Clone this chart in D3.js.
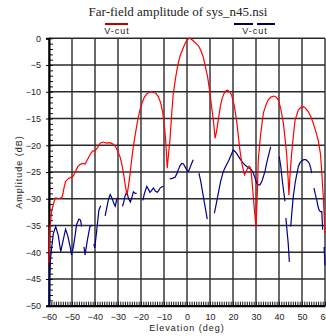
<!DOCTYPE html>
<html>
<head>
<meta charset="utf-8">
<script src="https://cdn.jsdelivr.net/npm/d3@7"></script>
<style>
  body { margin: 0; background: #fff; }
  svg { display: block; }
  .lbl { font-family: "Liberation Sans", Arial, sans-serif; font-size: 9px; fill: #222; }
</style>
</head>
<body>
<svg width="326" height="336"></svg>
<script>
// chart title and legend
var title = "Far-field amplitude of sys_n45.nsi";
var seriesNames = ["V-cut", "V-cut"];
var xTicks = d3.range(-60, 61, 10);
var yTicks = d3.range(-50, 1, 5);

// red V-cut: [elevation deg, amplitude dB]
var redCut = [
  [-60,-42],[-59.6,-35.5],[-58.8,-32.2],[-57.8,-30.5],[-57,-29.8],[-56,-30],[-55,-29.9],[-54.2,-29.6],
  [-53.5,-28],[-52.8,-26.8],[-51.5,-26.2],[-50.5,-26],[-49.5,-25.8],[-48.7,-25.1],[-47.5,-24],[-46.5,-23.6],
  [-45.5,-23.4],[-44.3,-23.5],[-43.2,-22.6],[-42,-21.6],[-41,-21.1],[-40,-21],[-39,-20.5],[-37.8,-19.6],
  [-36.5,-19.4],[-35,-19.6],[-34,-19.5],[-33,-19.6],[-32,-19.8],[-31,-20.3],[-30,-21.2],[-29,-22.3],
  [-28.2,-23.8],[-27.4,-25.8],[-26.8,-27.6],[-26.1,-29.3],[-25.4,-27.5],[-24.8,-25.5],[-24,-22.5],
  [-23.3,-20.2],[-22.5,-18],[-21.5,-15.5],[-20.5,-13.5],[-19.5,-12],[-18.5,-11],[-17.5,-10.4],
  [-16.5,-10.1],[-15.5,-10],[-14.5,-10.1],[-13.5,-10.3],[-12.5,-10.9],[-11.5,-12],[-10.5,-14],
  [-9.8,-16.5],[-9.2,-19.5],[-8.6,-24.3],[-8,-21.5],[-7.4,-19],[-6.8,-15],[-6,-10.5],[-5,-7.5],
  [-4,-5],[-3,-3.3],[-2,-2.2],[-1,-1.1],[0,-0.3],[1,0],[2,-0.2],[3,-0.6],[4,-1],[5,-1.4],[6,-2.3],
  [7,-3.4],[8,-5.3],[9,-7.3],[10,-10.3],[10.7,-12.8],[11.5,-15.5],[12.2,-18.7],[12.8,-17.5],
  [13.6,-15.3],[14.4,-13],[15.1,-11.5],[16,-10.4],[17,-9.8],[17.5,-9.7],[18.5,-10],[19.4,-10.6],
  [20.5,-12.5],[21.6,-15.5],[22.3,-18.2],[23,-20.9],[24,-23.7],[25,-25.5],[25.6,-25],[26.2,-24.4],
  [27,-23.9],[27.6,-24.2],[28.1,-25.9],[28.8,-29.5],[29.4,-32.5],[30,-35.2],[30.5,-30],[31,-22.7],
  [32,-18],[33.2,-14],[34.3,-12.5],[35.3,-11.5],[36.5,-11],[37.8,-10.8],[38.8,-11],[39.7,-11.5],
  [40.8,-13.2],[41.9,-15.9],[42.7,-19],[43.3,-21.5],[44,-26.5],[44.3,-29.3],[44.8,-25.5],[45.5,-21.5],
  [46.3,-18],[47,-15.3],[48.4,-13.4],[49.5,-12.9],[50.6,-12.8],[51.6,-13.1],[52.7,-13.7],[53.8,-14.6],
  [54.9,-15.9],[56,-17.4],[57,-19],[58,-21.5],[58.6,-25],[59.3,-30],[60,-36.5]
];

// blue V-cut, null = break in the trace
var blueCut = [
  [-60,-50],[-59.7,-44],[-59.3,-41],[-58.8,-39],[-58.1,-36.5],[-57.1,-35.2],[-56,-36.8],[-54.9,-39.9],
  [-53.8,-37.7],[-52.8,-35.7],[-51.8,-37],[-50.8,-39],[-50.2,-40.5],[-49.4,-39],[-48.7,-37],[-48,-34.8],
  [-47,-33.8],[-46.3,-34],[-45.8,-35.2],null,
  [-44.8,-39],[-44.3,-40.5],[-43.3,-37.7],[-42.2,-35.2],[-41.2,-34.9],null,
  [-40.5,-38.5],[-40.1,-39.2],[-39.3,-36.1],[-38.3,-32.1],[-37.5,-31.3],null,
  [-35.6,-33.2],[-34.8,-31.5],[-34.2,-30.2],[-33.4,-29.2],[-32.5,-30],[-31.7,-31],[-31.2,-31.4],
  [-30.6,-30.2],[-29.9,-29.8],null,
  [-28.1,-31.4],[-27.7,-31],[-27,-29.6],[-26.2,-28.7],[-25.4,-30],[-24.6,-30.6],[-23.8,-29.5],
  [-23.3,-28.7],[-22.5,-29],[-21.9,-29],null,
  [-19.2,-30.3],[-18.5,-29],[-17.5,-27.7],[-16.8,-28.2],[-16.1,-28.8],[-15.3,-28.4],[-14.6,-28],
  [-13.7,-28.6],[-12.9,-28.8],[-12.2,-28.4],[-11.7,-28],[-11,-27.8],[-10.3,-27.7],null,
  [-7.5,-26.3],[-6.5,-26.2],[-5.2,-26],[-4.5,-25.4],[-3.8,-24.6],[-3,-23.8],[-2.3,-23.4],[-1.5,-23.5],
  [-0.9,-24],[0,-24.7],[0.6,-24.9],[1.3,-24.2],[2,-23.4],[2.7,-22.7],null,
  [5.2,-25.2],[6,-26.8],[7.1,-29.6],[8,-31.8],[8.8,-33.8],null,
  [11.9,-32.7],[12.7,-31],[13.6,-29],[14.6,-26.8],[15.8,-24.9],[17,-23.8],[18,-23],[19,-22],
  [20.1,-20.9],[21,-21.2],[22,-21.8],[23,-22.5],[23.8,-23],[24.5,-23.4],[25.5,-23.8],[26.7,-24.2],
  [27.5,-24.4],[28.2,-24.7],[28.8,-25.2],[29.5,-26],[30.3,-27.1],[31,-27.4],[31.7,-27.4],[32.5,-26.8],
  [33.2,-25.9],[34,-24.7],[34.6,-23.4],[35.5,-21.8],[36.4,-20.3],null,
  [40.1,-22.1],[40.8,-24],[41.4,-26.5],[42,-28.5],[42.6,-30.5],null,
  [43,-33.6],[43.6,-36.5],[44,-38.3],[44.5,-41.8],null,
  [45.1,-35.2],[45.6,-32.5],[46.2,-29.6],[47,-27.1],[47.7,-25.5],[48.4,-24],[49.1,-23.3],[49.9,-22.9],
  [50.8,-22.7],[51.7,-22.7],[52.5,-23],[53.2,-23.4],[53.8,-24.3],[54.2,-25.2],null,
  [55.2,-28],[55.8,-29.2],[56.4,-30.2],[57,-31.5],[57.4,-32.1],[58,-32.4],[58.6,-32.4],[59,-35.8],null,
  [59.6,-39],[59.9,-41.4],[60,-42.5]
];

var svg = d3.select("svg");
var x = d3.scaleLinear().domain([-60, 60]).range([49, 325]);
var y = d3.scaleLinear().domain([-50, 0]).range([305.7, 38.3]);

// title
svg.append("text")
  .attr("x", 178).attr("y", 16)
  .attr("text-anchor", "middle")
  .style("font-family", "'Liberation Serif', 'Times New Roman', serif")
  .style("font-size", "13px")
  .style("fill", "#222")
  .text(title);

// grid
svg.append("g")
  .selectAll("line").data(xTicks).enter().append("line")
  .attr("x1", d => x(d)).attr("x2", d => x(d))
  .attr("y1", y(0)).attr("y2", y(-50))
  .style("stroke", "#6a6a6a").style("stroke-width", 2);
svg.append("g")
  .selectAll("line").data(yTicks).enter().append("line")
  .attr("x1", x(-60)).attr("x2", x(60))
  .attr("y1", d => y(d)).attr("y2", d => y(d))
  .style("stroke", "#2a2a2a").style("stroke-width", 1.5);

// minor ticks
svg.append("g")
  .attr("transform", "translate(" + x(-60) + ",0)")
  .call(d3.axisRight(y).tickValues(d3.range(-50, 1, 1)).tickSize(4).tickFormat(""))
  .call(g => g.select(".domain").remove())
  .selectAll("line").style("stroke", "#111").style("stroke-width", 1);
svg.append("g")
  .attr("transform", "translate(0," + y(-50) + ")")
  .call(d3.axisTop(x).tickValues(d3.range(-60, 61, 1)).tickSize(4).tickFormat(""))
  .call(g => g.select(".domain").remove())
  .selectAll("line").style("stroke", "#111").style("stroke-width", 1);

// axis lines + labels
var yAxis = svg.append("g")
  .attr("transform", "translate(" + x(-60) + ",0)")
  .call(d3.axisLeft(y).tickValues(yTicks).tickSize(3).tickPadding(5));
yAxis.select(".domain").style("stroke", "#000").style("stroke-width", 2);
yAxis.selectAll("text").attr("class", "lbl").attr("fill", null);
yAxis.selectAll("line").style("stroke", "#000");

var xAxis = svg.append("g")
  .attr("transform", "translate(0," + y(-50) + ")")
  .call(d3.axisBottom(x).tickValues(xTicks).tickSize(0).tickPadding(8));
xAxis.select(".domain").style("stroke", "#000").style("stroke-width", 2);
xAxis.selectAll("text").attr("class", "lbl").attr("fill", null);

svg.append("text").attr("class", "lbl")
  .attr("x", 187).attr("y", 331)
  .attr("text-anchor", "middle")
  .style("letter-spacing", "1px")
  .text("Elevation (deg)");
svg.append("text").attr("class", "lbl")
  .attr("transform", "translate(22,172) rotate(-90)")
  .attr("text-anchor", "middle")
  .style("letter-spacing", "1px")
  .text("Amplitude (dB)");

// curves
var line = d3.line()
  .defined(d => d !== null)
  .x(d => x(d[0])).y(d => y(d[1]));
svg.append("path").datum(blueCut).attr("d", line)
  .style("fill", "none").style("stroke", "#00008b").style("stroke-width", 1.2);
svg.append("path").datum(redCut).attr("d", line)
  .style("fill", "none").style("stroke", "#ff0000").style("stroke-width", 1.2);

// legend
var legend = [
  {name: seriesNames[0], color: "#c00000", segs: [[105, 128]], cx: 117},
  {name: seriesNames[1], color: "#00004d", segs: [[234, 253], [257, 275]], cx: 255}
];
legend.forEach(function(l) {
  l.segs.forEach(function(s) {
    svg.append("line")
      .attr("x1", s[0]).attr("x2", s[1]).attr("y1", 24).attr("y2", 24)
      .style("stroke", l.color).style("stroke-width", 2);
  });
  svg.append("text").attr("class", "lbl")
    .attr("x", l.cx).attr("y", 34)
    .attr("text-anchor", "middle")
    .style("letter-spacing", "1px")
    .text(l.name);
});
</script>
</body>
</html>
